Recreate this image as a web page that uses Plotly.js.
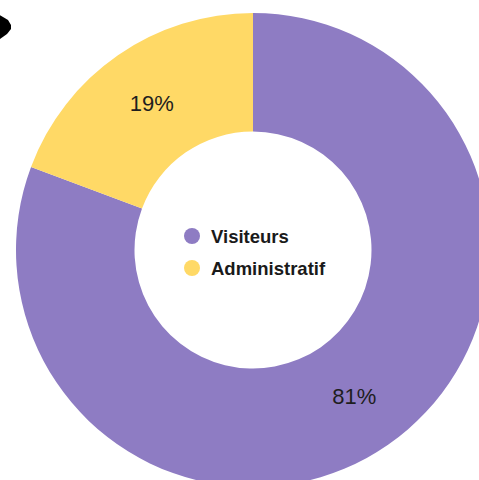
<!DOCTYPE html>
<html>
<head>
<meta charset="utf-8">
<script src="https://cdn.plot.ly/plotly-3.0.1.min.js"></script>
<style>
html,body{margin:0;padding:0;overflow:hidden;background:#fff;}
#chart{width:500px;height:500px;}
</style>
</head>
<body>
<div id="chart"></div>
<script>
const labels = ["Visiteurs", "Administratif"];
const values = [80.7, 19.3];
const colors = ["#8e7cc3", "#ffd966"];

const W = 500, H = 500;
const px = x => x / W;
const py = y => 1 - y / H;

const trace = {
  type: "pie",
  labels: labels,
  values: values,
  hole: 0.5,
  sort: false,
  direction: "clockwise",
  rotation: 0,
  marker: {colors: colors, line: {width: 0}},
  texttemplate: "%{percent:.0%}",
  textposition: "inside",
  insidetextorientation: "horizontal",
  insidetextfont: {family: "Liberation Sans, Arial, sans-serif", size: 22, color: "#1e1e1e"},
  hoverinfo: "none",
  showlegend: false,
  domain: {x: [px(16), px(490)], y: [py(487), py(13)]}
};

const legendY = [236, 268];
const shapes = [];
const annotations = [];
labels.forEach((lab, i) => {
  const cy = legendY[i];
  shapes.push({type: "circle", xref: "paper", yref: "paper",
    x0: px(184), x1: px(200), y0: py(cy + 8), y1: py(cy - 8),
    fillcolor: colors[i], line: {width: 0}});
  annotations.push({text: "<b>" + lab + "</b>", xref: "paper", yref: "paper",
    x: px(209), y: py(cy), xanchor: "left", yanchor: "middle", showarrow: false,
    font: {family: "Liberation Sans, Arial, sans-serif", size: 18.5, color: "#1a1a1a"}});
});

// small black mark in the top-left corner
const pts = [[-2,14],[3,17],[8,20],[11,25],[11,29],[7,34],[0,39],[-2,39]];
let path = "M " + pts.map(p => px(p[0]) + "," + py(p[1])).join(" L ") + " Z";
shapes.push({type: "path", xref: "paper", yref: "paper", path: path,
  fillcolor: "#000", line: {width: 0}});

const layout = {
  width: W, height: H,
  margin: {l: 0, r: 0, t: 0, b: 0},
  paper_bgcolor: "#fff",
  plot_bgcolor: "#fff",
  shapes: shapes,
  annotations: annotations,
  showlegend: false
};

Plotly.newPlot("chart", [trace], layout, {displayModeBar: false, staticPlot: true});
</script>
</body>
</html>
